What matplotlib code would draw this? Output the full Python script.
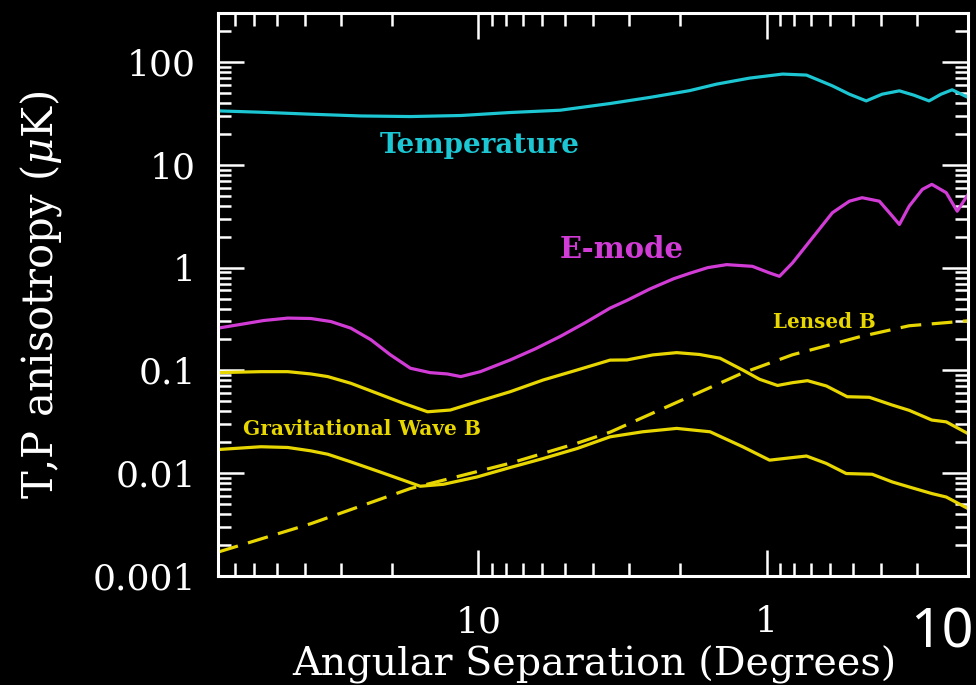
import numpy as np
import matplotlib.pyplot as plt
from matplotlib.ticker import FuncFormatter, NullFormatter, LogLocator

# curves: angular scale (degrees) and amplitude (uK)
temp_deg = [80, 56.8, 38.1, 25.6, 17.2, 11.5, 7.75, 5.2, 3.49, 2.54, 1.85, 1.49,
            1.145, 0.88, 0.727, 0.591, 0.516, 0.451, 0.397, 0.346, 0.308, 0.273,
            0.248, 0.227, 0.2]
temp_val = [33.5, 32.5, 31.1, 29.9, 29.5, 30.2, 32.3, 34.0, 39.5, 45.3, 52.7, 61.0,
            69.8, 76.4, 74.7, 58.7, 48.7, 41.9, 48.7, 52.5, 47.6, 41.9,
            48.7, 53.7, 45.3]

emode_deg = [80, 65, 55.5, 45.8, 38.1, 32.5, 27.7, 23.6, 20.2, 17.2, 14.7, 12.8,
             11.5, 9.84, 7.75, 6.35, 5.2, 4.26, 3.49, 3.05, 2.54, 2.1, 1.85, 1.6,
             1.375, 1.12, 0.976, 0.902, 0.813, 0.693, 0.591, 0.516, 0.466, 0.406,
             0.366, 0.346, 0.32, 0.288, 0.267, 0.238, 0.218, 0.2]
emode_val = [0.258, 0.284, 0.306, 0.323, 0.32, 0.299, 0.258, 0.199, 0.142, 0.105,
             0.0952, 0.0924, 0.0871, 0.0973, 0.1265, 0.162, 0.214, 0.291, 0.404,
             0.48, 0.62, 0.78, 0.88, 1.0, 1.07, 1.03, 0.888, 0.823, 1.11, 1.95,
             3.42, 4.43, 4.79, 4.43, 3.17, 2.63, 3.96, 5.77, 6.46, 5.36, 3.54, 5.15]

gw_hi_deg = [80, 56.8, 45.8, 38.1, 33.3, 27.7, 22.4, 18.2, 15.0, 12.5, 10.1, 7.75,
             5.96, 4.54, 3.49, 3.05, 2.48, 2.05, 1.71, 1.45, 1.21, 1.057, 0.916,
             0.813, 0.721, 0.62, 0.525, 0.44, 0.366, 0.32, 0.267, 0.238, 0.2]
gw_hi_val = [0.0952, 0.0973, 0.0973, 0.0924, 0.0871, 0.075, 0.0598, 0.0479, 0.0396,
             0.0412, 0.0496, 0.0621, 0.0807, 0.101, 0.126, 0.1265, 0.1416, 0.149,
             0.143, 0.1315, 0.101, 0.082, 0.0714, 0.076, 0.0795, 0.0706, 0.0555,
             0.0548, 0.046, 0.0409, 0.0329, 0.0316, 0.0243]

gw_lo_deg = [80, 56.8, 45.8, 38.1, 33.3, 27.7, 22.4, 18.2, 15.9, 13.2, 10.1, 7.75,
             5.96, 4.54, 3.49, 2.69, 2.05, 1.57, 1.21, 0.976, 0.813, 0.727, 0.62,
             0.529, 0.43, 0.366, 0.32, 0.267, 0.238, 0.2]
gw_lo_val = [0.017, 0.0181, 0.0178, 0.0165, 0.0153, 0.0129, 0.0105, 0.00855, 0.00747,
             0.00781, 0.0092, 0.01137, 0.0139, 0.0174, 0.0226, 0.0253, 0.0273, 0.0253,
             0.0181, 0.0134, 0.0142, 0.0147, 0.01244, 0.00993, 0.00977, 0.00822,
             0.00735, 0.00634, 0.00587, 0.00453]

lensed_deg = [80, 38.1, 17.2, 7.75, 4.54, 3.49, 2.35, 1.7, 1.21, 0.813, 0.605,
              0.477, 0.32, 0.2]
lensed_val = [0.00171, 0.00323, 0.0071, 0.01252, 0.0196, 0.0251, 0.0412, 0.0617,
              0.0945, 0.142, 0.177, 0.212, 0.272, 0.304]

cyan = '#1cc6d2'
magenta = '#d23cd6'
yellow = '#e8d600'

plt.rcParams['mathtext.fontset'] = 'dejavuserif'
plt.rcParams['font.family'] = 'DejaVu Serif'

fig = plt.figure(figsize=(9.76, 6.85), dpi=100, facecolor='black')
ax = fig.add_axes([0.2234, 0.1591, 0.7684, 0.8219], facecolor='black')

ax.plot(temp_deg, temp_val, color=cyan, lw=2.3)
ax.plot(emode_deg, emode_val, color=magenta, lw=2.3)
ax.plot(gw_hi_deg, gw_hi_val, color=yellow, lw=2.3)
ax.plot(gw_lo_deg, gw_lo_val, color=yellow, lw=2.3)
ax.plot(lensed_deg, lensed_val, color=yellow, lw=2.3, linestyle=(0, (6.5, 3.3)))

ax.set_xscale('log')
ax.set_yscale('log')
ax.set_xlim(80, 0.2)
ax.set_ylim(0.001, 300)

fmt = FuncFormatter(lambda v, p: '%g' % v)
for a in (ax.xaxis, ax.yaxis):
    a.set_major_formatter(fmt)
    a.set_minor_locator(LogLocator(base=10, subs=np.arange(2, 10)))
    a.set_minor_formatter(NullFormatter())

ax.tick_params(which='both', direction='in', top=True, right=True,
               colors='white', width=1.8, labelsize=26)
ax.tick_params(which='major', length=19)
ax.tick_params(which='minor', length=9.5)
ax.tick_params(axis='y', pad=16)
ax.tick_params(axis='x', pad=21)
for s in ax.spines.values():
    s.set_color('white')
    s.set_linewidth(2.2)

fig.text(41 / 976, 1 - 295 / 685, 'T,P anisotropy ($\\mu$K)', color='white',
         fontsize=30, rotation=90, ha='center', va='center')
fig.text(594 / 976, 1 - 676 / 685, 'Angular Separation (Degrees)', color='white',
         fontsize=28.5, ha='center', va='baseline')

fig.text(380 / 976, 1 - 153 / 685, 'Temperature', color=cyan, fontsize=20,
         fontweight='bold', ha='left', va='baseline')
fig.text(560 / 976, 1 - 258 / 685, 'E-mode', color=magenta, fontsize=21,
         fontweight='bold', ha='left', va='baseline')
fig.text(243 / 976, 1 - 435 / 685, 'Gravitational Wave B', color=yellow, fontsize=14.5,
         fontweight='bold', ha='left', va='baseline')
fig.text(773 / 976, 1 - 328 / 685, 'Lensed B', color=yellow, fontsize=14.3,
         fontweight='bold', ha='left', va='baseline')

# stray overlay label at the bottom right corner
fig.text(942 / 976, 1 - 633 / 685, '10', color='white', fontsize=40,
         family='Noto Sans', ha='center', va='center')

fig.savefig('out.png', dpi=100, facecolor='black')
